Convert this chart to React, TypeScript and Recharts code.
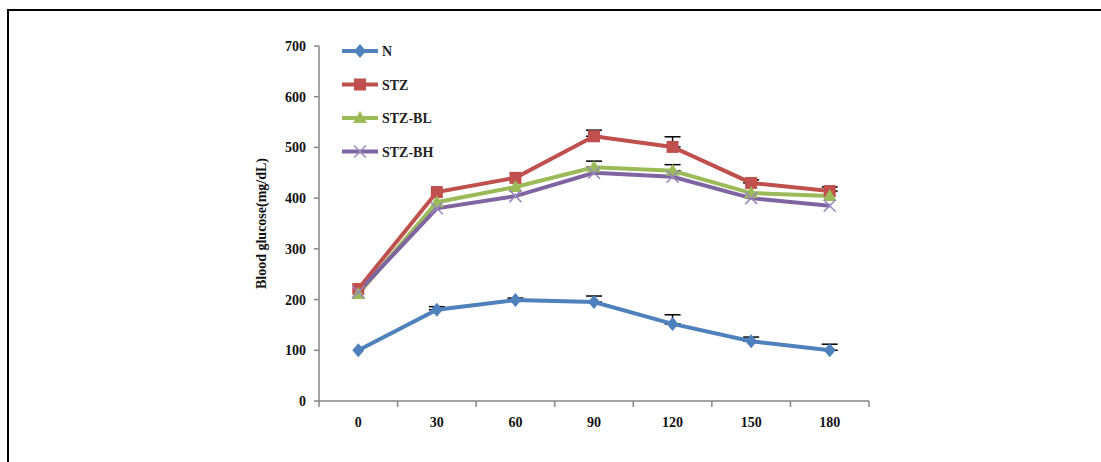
import React from 'react';
import { LineChart, Line, XAxis, YAxis, ErrorBar, Label } from 'recharts';

const times = ['0', '30', '60', '90', '120', '150', '180'];
const nValues = [100, 180, 199, 195, 152, 118, 100];
const stzValues = [221, 412, 440, 522, 501, 430, 414];
const blValues = [211, 392, 422, 461, 454, 410, 404];
const bhValues = [215, 380, 404, 450, 442, 400, 385];
// upper error only; 0 means no bar visible in the figure
const nErr = [0, 6, 4, 12, 18, 8, 12];
const stzErr = [0, 0, 0, 12, 20, 6, 8];
const blErr = [0, 0, 0, 12, 12, 0, 0];
const bhErr = [0, 0, 0, 0, 0, 0, 0];
const yTicks = [0, 100, 200, 300, 400, 500, 600, 700];

const FONT = '"Liberation Serif", "Times New Roman", serif';
const AXIS = '#868686';
const PLOT_W = 550;
const BAND = PLOT_W / times.length;

const series = [
  { key: 'N', color: '#4F81BD', shape: 'diamond', err: 'nErr' },
  { key: 'STZ', color: '#C0504D', shape: 'square', err: 'stzErr' },
  { key: 'STZ-BL', color: '#9BBB59', shape: 'triangle', err: 'blErr' },
  { key: 'STZ-BH', color: '#8064A2', shape: 'cross', err: 'bhErr' },
];

const upper = (e: number) => (e > 0 ? [0, e] : null);

const data = times.map((t, i) => ({
  time: t,
  N: nValues[i],
  STZ: stzValues[i],
  'STZ-BL': blValues[i],
  'STZ-BH': bhValues[i],
  nErr: upper(nErr[i]),
  stzErr: upper(stzErr[i]),
  blErr: upper(blErr[i]),
  bhErr: upper(bhErr[i]),
}));

const Marker = ({ cx, cy, shape, color }: { cx: number; cy: number; shape: string; color: string }) => {
  if (cx == null || cy == null) return null;
  if (shape === 'diamond') {
    return <path d={`M${cx},${cy - 7} L${cx + 6},${cy} L${cx},${cy + 7} L${cx - 6},${cy} Z`} fill={color} />;
  }
  if (shape === 'square') {
    return <rect x={cx - 6} y={cy - 6} width={12} height={12} fill={color} />;
  }
  if (shape === 'triangle') {
    return <path d={`M${cx},${cy - 7} L${cx + 7},${cy + 5} L${cx - 7},${cy + 5} Z`} fill={color} />;
  }
  return (
    <g stroke="#9B87BE" strokeWidth={1.5}>
      <line x1={cx - 6} y1={cy - 6} x2={cx + 6} y2={cy + 6} />
      <line x1={cx - 6} y1={cy + 6} x2={cx + 6} y2={cy - 6} />
    </g>
  );
};

const LegendBox = () => (
  <svg width={110} height={130}>
    {series.map((s, i) => {
      const y = 13 + i * 33.5;
      return (
        <g key={s.key}>
          <line x1={4} y1={y} x2={40} y2={y} stroke={s.color} strokeWidth={4} />
          <Marker cx={22} cy={y} shape={s.shape} color={s.color} />
          <text x={44} y={y + 5} fontFamily={FONT} fontWeight="bold" fontSize={14} fill="#222">
            {s.key}
          </text>
        </g>
      );
    })}
  </svg>
);

// Excel-style category ticks: marks sit on the band edges, labels in the middle
const XTick = (props: any) => {
  const { x, y, payload, index } = props;
  return (
    <g>
      <line x1={x - BAND / 2} y1={y} x2={x - BAND / 2} y2={y + 6} stroke={AXIS} strokeWidth={1.5} />
      {index === times.length - 1 && (
        <line x1={x + BAND / 2} y1={y} x2={x + BAND / 2} y2={y + 6} stroke={AXIS} strokeWidth={1.5} />
      )}
      <text x={x} y={y + 16} dy="0.71em" textAnchor="middle" fontFamily={FONT} fontWeight="bold" fontSize={14} fill="#111">
        {payload.value}
      </text>
    </g>
  );
};

export default function App() {
  return (
    <div style={{ position: 'absolute', left: 0, top: 0, width: 1101, height: 462, background: '#fff' }}>
      <div
        style={{
          position: 'absolute',
          left: 7,
          top: 9,
          width: 1101,
          height: 462,
          borderTop: '2px solid #000',
          borderLeft: '2px solid #000',
        }}
      />
      <div style={{ position: 'absolute', left: 0, top: 0 }}>
        <LineChart width={1101} height={462} data={data} margin={{ top: 46, right: 232, bottom: 31, left: 259 }}>
          <XAxis
            dataKey="time"
            height={30}
            interval={0}
            padding={{ left: BAND / 2, right: BAND / 2 }}
            axisLine={{ stroke: AXIS, strokeWidth: 1.5 }}
            tickLine={false}
            tickSize={0}
            tickMargin={0}
            tick={<XTick />}
          />
          <YAxis
            width={60}
            domain={[0, 700]}
            ticks={yTicks}
            interval={0}
            tickSize={5}
            tickMargin={8}
            axisLine={{ stroke: AXIS, strokeWidth: 1.5 }}
            tickLine={{ stroke: AXIS, strokeWidth: 1.5 }}
            tick={{ fontFamily: FONT, fontWeight: 'bold', fontSize: 14, fill: '#111' }}
          >
            <Label
              value="Blood glucose(mg/dL)"
              angle={-90}
              position="insideLeft"
              offset={2}
              style={{ textAnchor: 'middle', fontFamily: FONT, fontWeight: 'bold', fontSize: 14, fill: '#111' }}
            />
          </YAxis>
          {series.map((s) => (
            <Line
              key={s.key}
              dataKey={s.key}
              stroke={s.color}
              strokeWidth={4}
              isAnimationActive={false}
              dot={(p: any) => <Marker key={`${s.key}-${p.index}`} cx={p.cx} cy={p.cy} shape={s.shape} color={s.color} />}
              activeDot={false}
            >
              <ErrorBar dataKey={s.err} width={8} stroke="#000" strokeWidth={1.5} direction="y" />
            </Line>
          ))}
        </LineChart>
      </div>
      <div style={{ position: 'absolute', left: 338, top: 38 }}>
        <LegendBox />
      </div>
    </div>
  );
}
